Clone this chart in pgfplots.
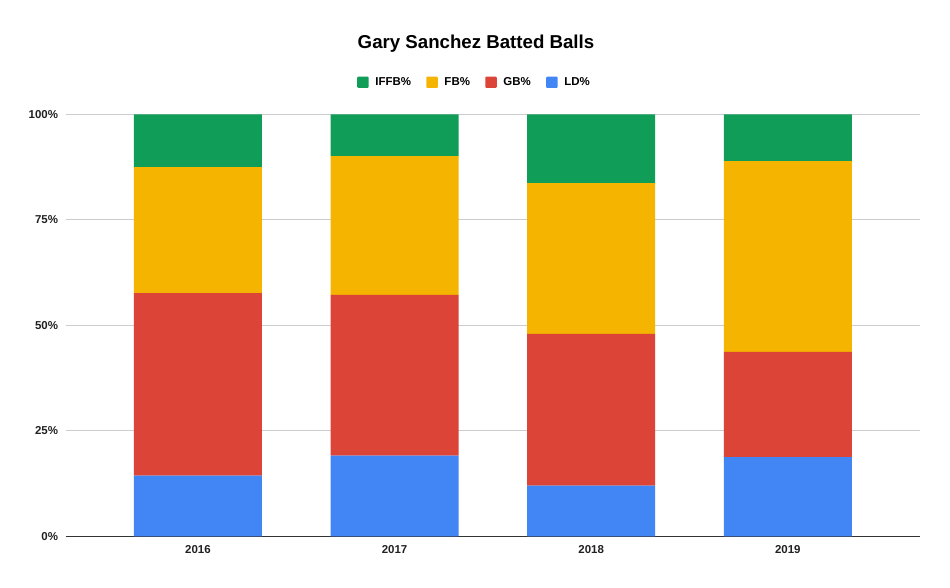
\documentclass[border=0pt]{standalone}
\usepackage{pgfplots}
\pgfplotsset{compat=1.18}
\usepackage{fontspec}
\setmainfont{Liberation Sans}
\definecolor{cLD}{HTML}{4285F4}
\definecolor{cGB}{HTML}{DB4437}
\definecolor{cFB}{HTML}{F4B400}
\definecolor{cIF}{HTML}{0F9D58}
\definecolor{gridc}{HTML}{CCCCCC}
\definecolor{axisc}{HTML}{333333}
\begin{document}
\begin{tikzpicture}
\path[use as bounding box, fill=white] (0,0) rectangle (712.5pt,440.25pt);
\begin{axis}[
  at={(49.3pt,38.0pt)}, anchor=south west,
  scale only axis, width=640.7pt, height=316.5pt,
  ybar stacked, bar width=96pt,
  xmin=-0.672, xmax=3.672, ymin=0, ymax=100,
  xtick={0,1,2,3}, xticklabels={2016,2017,2018,2019},
  ytick={25,50,75,100},
  yticklabel={\pgfmathprintnumber{\tick}\%},
  /pgf/number format/assume math mode=true,
  extra y ticks={0},
  extra y tick style={grid=major, major grid style={draw=axisc, line width=1.1pt}},
  ymajorgrids, major grid style={draw=gridc, line width=0.75pt},
  axis line style={draw=none},
  tick style={draw=none},
  ticklabel style={font=\fontsize{8.6}{10}\selectfont\bfseries, text=black!87},
  yticklabel style={xshift=-2.3pt},
  xticklabel style={yshift=-3.5pt},
  legend style={at={(0.4789,1.0760)}, anchor=center, draw=none, fill=none,
    legend columns=4, font=\fontsize{8.6}{10}\selectfont\bfseries,
    /tikz/every odd column/.append style={column sep=3pt},
    /tikz/every even column/.append style={column sep=9.5pt}},
  legend image code/.code={\fill[#1, rounded corners=0.8pt] (0pt,-4.3pt) rectangle (8.6pt,4.3pt);},
  reverse legend,
]
\addplot[fill=cLD, draw=none] coordinates {(0,14.4) (1,19.1) (2,12.0) (3,18.8)};
\addplot[fill=cGB, draw=none] coordinates {(0,43.25) (1,38.1) (2,36.0) (3,24.9)};
\addplot[fill=cFB, draw=none] coordinates {(0,29.85) (1,32.9) (2,35.7) (3,45.2)};
\addplot[fill=cIF, draw=none] coordinates {(0,12.5) (1,9.9) (2,16.3) (3,11.1)};
\legend{LD\%, GB\%, FB\%, IFFB\%}
\end{axis}
\node[anchor=base, font=\fontsize{14}{16}\selectfont\bfseries] at (357pt,404pt) {Gary Sanchez Batted Balls};
\end{tikzpicture}
\end{document}
